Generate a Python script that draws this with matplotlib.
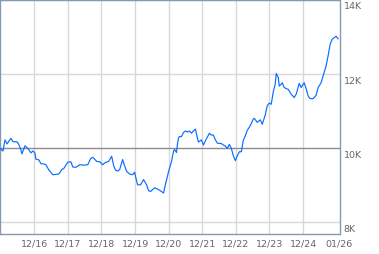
import matplotlib
matplotlib.use("Agg")
import matplotlib.pyplot as plt

# decimal-year dates and values (thousands)
dates = [2015.899, 2015.988, 2016.047, 2016.107, 2016.166, 2016.225, 2016.285, 2016.403,
         2016.463, 2016.522, 2016.552, 2016.611, 2016.641, 2016.730, 2016.819, 2016.878,
         2016.937, 2016.967, 2017.056, 2017.115, 2017.204, 2017.264, 2017.353, 2017.472,
         2017.650, 2017.739, 2017.798, 2017.917, 2018.006, 2018.065, 2018.154, 2018.273,
         2018.391, 2018.510, 2018.599, 2018.658, 2018.777, 2018.866, 2018.955, 2019.014,
         2019.133, 2019.222, 2019.281, 2019.341, 2019.400, 2019.459, 2019.548, 2019.608,
         2019.667, 2019.756, 2019.845, 2019.904, 2019.964, 2019.993, 2020.082, 2020.171,
         2020.260, 2020.320, 2020.379, 2020.498, 2020.617, 2020.735, 2020.765, 2020.824,
         2020.913, 2021.002, 2021.061, 2021.091, 2021.150, 2021.180, 2021.210, 2021.240,
         2021.299, 2021.358, 2021.418, 2021.477, 2021.536, 2021.596, 2021.655, 2021.714,
         2021.744, 2021.803, 2021.863, 2021.892, 2021.952, 2022.011, 2022.070, 2022.130,
         2022.189, 2022.248, 2022.308, 2022.367, 2022.486, 2022.545, 2022.604, 2022.664,
         2022.723, 2022.782, 2022.842, 2022.901, 2022.960, 2023.020, 2023.079, 2023.138,
         2023.198, 2023.257, 2023.317, 2023.376, 2023.435, 2023.465, 2023.554, 2023.643,
         2023.702, 2023.791, 2023.851, 2023.910, 2023.969, 2024.029, 2024.088, 2024.118,
         2024.177, 2024.207, 2024.266, 2024.296, 2024.355, 2024.414, 2024.474, 2024.563,
         2024.652, 2024.711, 2024.800, 2024.859, 2024.948, 2025.008, 2025.067, 2025.126,
         2025.215, 2025.304, 2025.364, 2025.453, 2025.512, 2025.601, 2025.660, 2025.720,
         2025.779, 2025.898, 2025.957]
values = [9.99, 9.92, 10.22, 10.11, 10.19, 10.26, 10.17, 10.17,
          10.09, 9.95, 9.84, 9.99, 10.06, 9.99, 9.87, 9.92,
          9.87, 9.70, 9.68, 9.58, 9.57, 9.55, 9.41, 9.28,
          9.30, 9.42, 9.45, 9.62, 9.63, 9.49, 9.48, 9.55,
          9.54, 9.55, 9.72, 9.75, 9.64, 9.63, 9.55, 9.60,
          9.64, 9.78, 9.52, 9.40, 9.38, 9.42, 9.69, 9.52,
          9.37, 9.30, 9.28, 9.35, 9.11, 9.01, 9.01, 9.15,
          9.01, 8.85, 8.83, 8.93, 8.88, 8.81, 8.79, 9.03,
          9.36, 9.64, 9.91, 9.96, 9.88, 10.11, 10.27, 10.31,
          10.31, 10.42, 10.46, 10.43, 10.46, 10.40, 10.46, 10.51,
          10.38, 10.16, 10.20, 10.22, 10.08, 10.20, 10.30, 10.40,
          10.35, 10.35, 10.22, 10.13, 10.12, 10.08, 10.05, 9.99,
          10.10, 9.99, 9.79, 9.66, 9.79, 9.90, 9.90, 10.21,
          10.33, 10.48, 10.56, 10.66, 10.78, 10.80, 10.69, 10.76,
          10.64, 10.89, 11.14, 11.21, 11.18, 11.51, 11.72, 12.01,
          11.90, 11.67, 11.72, 11.76, 11.63, 11.60, 11.58, 11.45,
          11.36, 11.45, 11.74, 11.63, 11.76, 11.60, 11.40, 11.33,
          11.33, 11.42, 11.63, 11.76, 11.94, 12.21, 12.48, 12.79,
          12.93, 13.01, 12.94]

x_ticks = [2016.917, 2017.917, 2018.917, 2019.917, 2020.917, 2021.917, 2022.917,
           2023.917, 2024.917, 2026.0]
x_labels = ["12/16", "12/17", "12/18", "12/19", "12/20", "12/21", "12/22",
            "12/23", "12/24", "01/26"]
y_ticks = [8, 10, 12, 14]
y_labels = ["8K", "10K", "12K", "14K"]
ref_level = 10

fig = plt.figure(figsize=(3.79, 2.55), dpi=100)
ax = fig.add_axes([0.0, 20 / 255, 339.5 / 379, 234.5 / 255])

ax.set_xlim(2015.899, 2026.0)
ax.set_ylim(7.685, 14.0)

grid_c = "#d8d8d8"
for xt in x_ticks[:-1]:
    ax.axvline(xt, color=grid_c, lw=1.0, zorder=1)
for yt in y_ticks:
    if yt != ref_level:
        ax.axhline(yt, color=grid_c, lw=1.0, zorder=1)
ax.axhline(ref_level, color="#8c8c8c", lw=1.0, zorder=2)

ax.plot(dates, values, color="#0a6cff", lw=0.85, zorder=3)

ax.set_xticks(x_ticks)
ax.set_xticklabels(x_labels)
ax.yaxis.tick_right()
ax.set_yticks(y_ticks)
ax.set_yticklabels(y_labels)
ax.tick_params(axis="both", length=0, labelsize=6.8, labelcolor="#666666")
ax.tick_params(axis="x", pad=3)
ax.tick_params(axis="y", pad=3)
for lab in ax.get_yticklabels():
    lab.set_verticalalignment("top")
    lab.set_transform(lab.get_transform() + matplotlib.transforms.ScaledTranslation(0, -2 / 100, fig.dpi_scale_trans))

for s in ax.spines.values():
    s.set_color("#8599b4")
    s.set_linewidth(1.0)

fig.savefig("out.png", dpi=100)
